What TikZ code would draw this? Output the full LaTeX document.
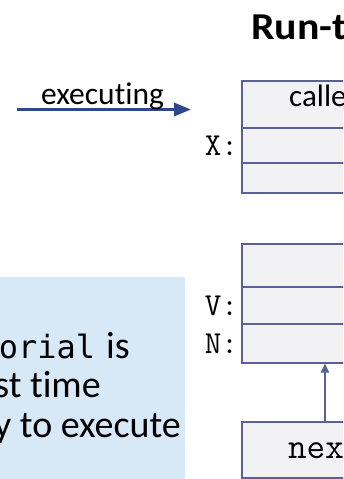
\documentclass[tikz,border=0pt]{standalone}
\usepackage{fontspec}
\setmainfont{Carlito}[Ligatures=NoCommon]
\newfontfamily\codefont{DejaVu Sans Mono}
\usetikzlibrary{arrows.meta}

\definecolor{framecol}{RGB}{88,98,150}
\definecolor{cellfill}{RGB}{242,242,245}
\definecolor{arrowcol}{RGB}{47,72,140}
\definecolor{notefill}{RGB}{215,233,247}

\begin{document}
\begin{tikzpicture}[x=1pt,y=-1pt,
  cell/.style={draw=framecol, line width=1.8pt, fill=cellfill, anchor=north west,
               inner sep=0pt, minimum width=160pt},
  varlbl/.style={font=\ttfamily\fontsize{32}{32}\selectfont, anchor=east, inner sep=0pt},
  bodytxt/.style={font=\fontsize{38}{38}\selectfont, anchor=base east, inner sep=0pt},
  flow/.style={draw=arrowcol, line width=3.3pt, -{Triangle[length=17pt,width=13pt]}},
  link/.style={draw=framecol, line width=1.5pt, -{Triangle[length=9pt,width=8pt]}}]
\useasboundingbox (0,0) rectangle (343,479);
\clip (0,0) rectangle (343,479);

% heading
\node[anchor=base west, inner sep=0pt,
      font=\bfseries\fontsize{38}{38}\selectfont\addfontfeatures{FakeStretch=1.1}]
  (title) at (251,39.3) {Run-time Stack};

% "executing" pointer
\coordinate (a0) at (17,109.5);
\coordinate (a1) at (191,109.5);
\draw[flow] (a0) -- (a1);
\node[anchor=base west, inner sep=0pt, font=\fontsize{31.5}{31.5}\selectfont]
  (exe) at (41,104.5) {executing};

% caller's activation record
\node[cell, minimum height=46.7pt] (c1) at (241,80) {};
\node[cell, minimum height=35.6pt] (c2) at (241,126.7) {};
\node[cell, minimum height=29.4pt] (c3) at (241,162.3) {};
\node[anchor=base west, inner sep=0pt, font=\fontsize{31}{31}\selectfont]
  (callerlbl) at (289,106.7) {caller};
\node[varlbl] (xl) at (c2.west) [xshift=-3pt] {X:};

% new activation record
\node[cell, minimum height=42.4pt] (n1) at (241,243.3) {};
\node[cell, minimum height=37.6pt] (n2) at (241,285.7) {};
\node[cell, minimum height=38.4pt] (n3) at (241,323.3) {};
\node[varlbl] (vl) at (n2.west) [xshift=-3pt] {V:};
\node[varlbl] (nl) at (n3.west) [xshift=-3pt] {N:};

% next statement box
\node[cell, minimum height=56pt] (nx) at (241,421) {};
\node[anchor=base west, inner sep=0pt, font=\ttfamily\fontsize{36}{36}\selectfont]
  (nxlbl) at (288,458) {next};
\coordinate (ax) at (325,0);
\draw[link] (nx.north -| ax) -- (n3.south -| ax);

% note panel
\node[fill=notefill, anchor=north west, inner sep=0pt, minimum width=185pt,
      minimum height=210pt] (note) at (0,277) {};
\node[bodytxt] (l1) at (130,358) {{\codefont\fontsize{32}{32}\selectfont factorial}\hspace{11pt}is};
\node[bodytxt] (l2) at (101,397) {first time};
\node[bodytxt] (l3) at (181,437) {ready to execute};
\end{tikzpicture}
\end{document}
